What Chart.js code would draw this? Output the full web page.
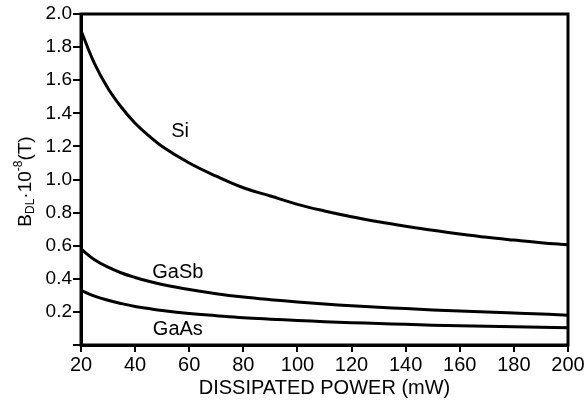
<!DOCTYPE html>
<html>
<head>
<meta charset="utf-8">
<script src="https://cdn.jsdelivr.net/npm/chart.js@4/dist/chart.umd.min.js"></script>
<style>
html,body{margin:0;padding:0;background:#fff;}
#c{display:block;}
</style>
</head>
<body>
<canvas id="c" width="587" height="400"></canvas>
<script>
const power = [20,25,30,35,40,45,50,60,70,80,90,100,110,120,130,140,150,160,170,180,190,200];
const si   = [1.90,1.70,1.55,1.435,1.34,1.265,1.20,1.10,1.02,0.95,0.90,0.85,0.81,0.775,0.745,0.718,0.693,0.671,0.651,0.634,0.618,0.605];
const gasb = [0.58,0.515,0.47,0.435,0.408,0.385,0.366,0.335,0.31,0.29,0.274,0.26,0.248,0.237,0.228,0.22,0.212,0.205,0.199,0.193,0.188,0.18];
const gaas = [0.33,0.295,0.27,0.25,0.233,0.22,0.208,0.19,0.177,0.165,0.156,0.148,0.141,0.135,0.13,0.125,0.12,0.117,0.113,0.11,0.107,0.104];
const seriesNames = ["Si","GaSb","GaAs"];
const labelX = [56.6, 55.8, 55.8];
const labelY = [1.29, 0.437, 0.093];
const xTitle = "DISSIPATED POWER (mW)";

const FONT = "'Liberation Sans', Arial, sans-serif";

function pts(vals){ return power.map((p,i)=>({x:p,y:vals[i]})); }

const frame = {
  id:'frame',
  afterDatasetsDraw(chart){
    const {ctx, chartArea:a, scales} = chart;
    ctx.save();
    ctx.strokeStyle='#000'; ctx.lineWidth=3;
    ctx.strokeRect(a.left, a.top, a.right-a.left, a.bottom-a.top);
    ctx.fillStyle='#000';
    ctx.font = "20px " + FONT;
    ctx.textAlign='center'; ctx.textBaseline='middle';
    seriesNames.forEach((n,i)=>{
      ctx.fillText(n, scales.x.getPixelForValue(labelX[i]), scales.y.getPixelForValue(labelY[i]));
    });
    ctx.translate(31, (a.top+a.bottom)/2 + 2);
    ctx.rotate(-Math.PI/2);
    const parts = [
      {t:"B", f:19, dy:0},
      {t:"DL", f:12, dy:3},
      {t:"\u00B710", f:19, dy:0},
      {t:"-8", f:12, dy:-9},
      {t:"(T)", f:19, dy:0}
    ];
    let total=0;
    parts.forEach(p=>{ ctx.font = p.f+"px "+FONT; p.w = ctx.measureText(p.t).width; total+=p.w; });
    let x=-total/2;
    ctx.textAlign='left'; ctx.textBaseline='alphabetic';
    parts.forEach(p=>{ ctx.font = p.f+"px "+FONT; ctx.fillText(p.t, x, p.dy); x+=p.w; });
    ctx.restore();
  }
};

const line = (d)=>({data:pts(d), borderColor:'#000', borderWidth:3, pointRadius:0, tension:0.4, fill:false, borderCapStyle:'round', borderJoinStyle:'round'});

new Chart(document.getElementById('c'), {
  type:'line',
  data:{ datasets:[ {label:seriesNames[0], ...line(si)}, {label:seriesNames[1], ...line(gasb)}, {label:seriesNames[2], ...line(gaas)} ] },
  options:{
    responsive:false, animation:false, devicePixelRatio:1,
    layout:{padding:{left:0, right:19, top:14, bottom:0}},
    plugins:{legend:{display:false}, tooltip:{enabled:false}},
    scales:{
      x:{
        type:'linear', min:20, max:200,
        ticks:{stepSize:20, color:'#000', font:{size:20, family:FONT}, padding:1, maxRotation:0},
        grid:{drawOnChartArea:false, tickLength:7, color:'#000', lineWidth:2},
        border:{display:true, color:'#000', width:3},
        title:{display:true, text:xTitle, color:'#000', font:{size:20, family:FONT}, padding:{top:0,bottom:0}},
        afterFit(s){ s.height = 55; }
      },
      y:{
        type:'linear', min:0, max:2,
        ticks:{stepSize:0.2, color:'#000', font:{size:19, family:FONT}, padding:1,
          callback:(v)=> Math.abs(v)<1e-9 ? '' : v.toFixed(1)},
        grid:{drawOnChartArea:false, tickLength:8, color:'#000', lineWidth:2},
        border:{display:true, color:'#000', width:3},
        afterFit(s){ s.width = 81; }
      }
    }
  },
  plugins:[frame]
});
</script>
</body>
</html>
